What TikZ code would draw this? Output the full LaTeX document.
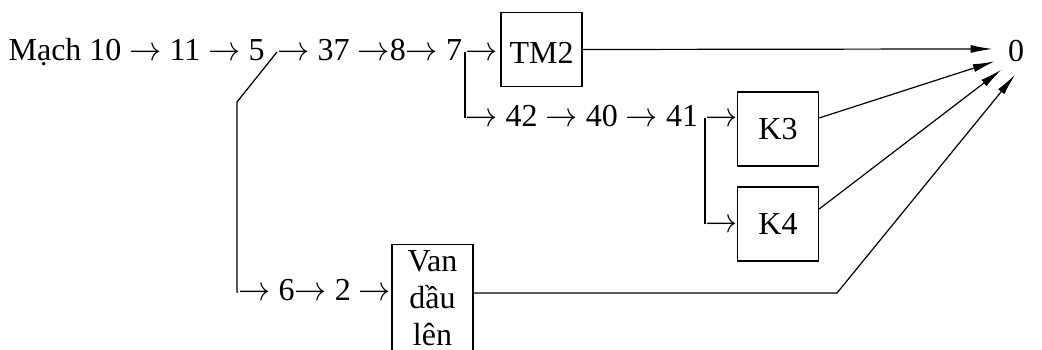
\documentclass[tikz,border=0pt]{standalone}
\usepackage{fontspec}
\usepackage{graphicx}
\setmainfont{Liberation Serif}
\usetikzlibrary{arrows.meta}

\newcommand{\rarr}{\scalebox{0.93}[1]{$\rightarrow$}}

\tikzset{
  lbl/.style={inner sep=0pt, anchor=base west},
  blk/.style={draw, minimum width=40.5pt, minimum height=37pt, inner sep=0pt},
  toout/.style={-{Latex[length=11pt,width=4pt]}},
}

\begin{document}
\begin{tikzpicture}[x=0.5pt, y=-0.5pt, line width=0.6pt, font=\fontsize{16}{18.5}\selectfont]
  \useasboundingbox (0,0) rectangle (1042,349);
  % top row
  \node[lbl] (mach) at (8,60) {Mạch 10 \rarr{} 11 \rarr{} 5};
  \node[lbl] (r37) at (277,60) {\rarr{} 37 \rarr8\rarr{} 7};
  \node[lbl] (in7) at (465,60) {\rarr};
  \node[blk, text height=14pt] (tm2) at (541.5,49.5) {TM2};
  \node[circle, minimum size=23pt, inner sep=0pt] (zero) at (1016,51) {0};
  % middle rows
  \node[lbl] (r42) at (465,126) {\rarr{} 42 \rarr{} 40 \rarr{} 41};
  \node[lbl] (in3) at (705,126) {\rarr};
  \node[lbl] (in4) at (705,232) {\rarr};
  \node[blk] (k3) at (778,129) {K3};
  \node[blk] (k4) at (778,224) {K4};
  % bottom row
  \node[lbl] (r6) at (238,300) {\rarr{} 6\rarr{} 2 \rarr};
  \node[blk, anchor=north, align=center, inner ysep=3pt, minimum height=0pt] (van) at (432.5,244) {Van\\dầu\\lên};
  \coordinate (bend) at (837,293);

  % branches
  \draw ([yshift=4pt]r37.base west) -- ++(-40,50) |- ([yshift=4pt]r6.base west);
  \draw ([yshift=4pt]in7.base west) -- ([yshift=4pt]r42.base west);
  \draw ([yshift=4pt]in3.base west) -- ([yshift=4pt]in4.base west);

  % outputs
  \draw[toout] (tm2.east) -- (zero.175);
  \draw[toout] (k3.15) -- (zero.206);
  \draw[toout] (k4.20) -- (zero.232);
  \draw[toout] ([yshift=-24.5pt]van.north east) -- (bend) -- (zero.268);
\end{tikzpicture}
\end{document}
